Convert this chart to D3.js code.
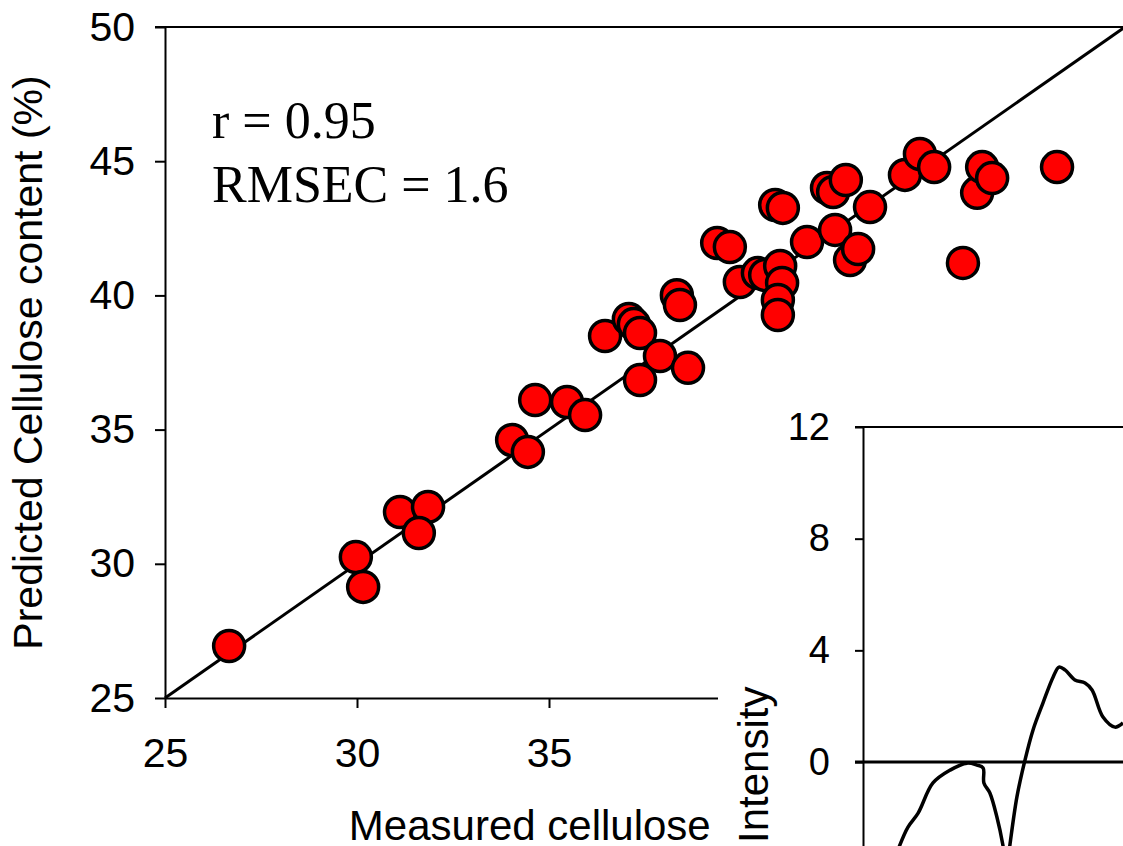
<!DOCTYPE html>
<html>
<head>
<meta charset="utf-8">
<script src="https://cdn.jsdelivr.net/npm/d3@7"></script>
<style>
  body { margin: 0; background: #fff; }
  svg { display: block; }
</style>
</head>
<body>
<div id="chart"></div>
<script>
// Measured vs predicted cellulose content (%)
const measured = [26.67, 29.97, 30.16, 31.12, 31.85, 31.61, 34.04, 34.45, 34.64, 35.47,
  35.94, 36.46, 37.08, 37.21, 37.37, 37.37, 37.89, 38.62, 38.33, 38.41,
  39.38, 39.71, 39.97, 40.44, 40.63, 41.02, 41.07, 40.96, 40.96, 40.89,
  41.09, 41.72, 42.24, 42.40, 42.73, 42.45, 42.84, 43.05, 43.36, 44.27,
  44.66, 45.03, 45.78, 46.15, 46.28, 46.54, 48.23];
const predicted = [26.94, 30.25, 29.14, 31.93, 32.12, 31.15, 34.61, 34.17, 36.10, 36.03,
  35.54, 38.49, 39.12, 38.93, 38.60, 36.85, 37.74, 37.30, 40.01, 39.64,
  41.95, 41.80, 40.50, 40.83, 40.76, 41.10, 40.46, 39.83, 39.27, 43.37,
  43.26, 41.99, 44.00, 43.85, 44.30, 42.44, 41.32, 41.73, 43.29, 44.49,
  45.27, 44.78, 41.21, 43.82, 44.78, 44.37, 44.78];
const xTicks = [25, 30, 35, 40, 45];
const yTicks = [25, 30, 35, 40, 45, 50];
const fitLine = [25, 50];
const statsText = ["r = 0.95", "RMSEC = 1.6"];

// inset spectrum (position in arbitrary units, intensity)
const specPos = [12.3, 14.2, 17.3, 21.2, 26.9, 33.5, 40.0, 43.8, 46.2, 46.5, 48.8, 51.5,
  53.8, 55.2, 56.5, 59.2, 62.3, 65.4, 69.2, 73.1, 75.4, 77.7, 81.5, 85.4, 88.1, 92.3, 96.9, 100];
const specInt = [-3.5, -2.97, -2.33, -1.83, -0.75, -0.29, -0.04, -0.11, -0.21, -0.75, -1.11, -1.97,
  -2.97, -3.9, -2.97, -1.25, 0.07, 1.15, 2.11, 3.04, 3.40, 3.30, 2.94, 2.83, 2.58, 1.61, 1.25, 1.40];
const insetTicks = [0, 4, 8, 12];

const width = 1123;
const height = 846;
const sans = "'Liberation Sans', Arial, sans-serif";
const serif = "'Liberation Serif', 'Times New Roman', serif";

const svg = d3.select("#chart")
    .append("svg")
    .attr("width", width)
    .attr("height", height);

const xScale = d3.scaleLinear().domain([25, 50]).range([165, 1125]);
const yScale = d3.scaleLinear().domain([25, 50]).range([698, 27]);

// top frame line
svg.append("line")
    .attr("x1", 155).attr("x2", width)
    .attr("y1", yScale(50)).attr("y2", yScale(50))
    .attr("stroke", "#000").attr("stroke-width", 2);

const xAxis = svg.append("g")
    .attr("transform", `translate(0,${yScale(25)})`)
    .call(d3.axisBottom(xScale).tickValues(xTicks).tickSize(10).tickPadding(30).tickSizeOuter(0));

const yAxis = svg.append("g")
    .attr("transform", `translate(${xScale(25)},0)`)
    .call(d3.axisLeft(yScale).tickValues(yTicks).tickSize(10).tickPadding(20).tickSizeOuter(0));

[xAxis, yAxis].forEach(g => {
    g.select(".domain").attr("stroke-width", 2);
    g.selectAll(".tick line").attr("stroke-width", 2);
    g.selectAll("text").attr("font-family", sans).attr("font-size", 41).attr("fill", "#000");
});

// 1:1 line
const line = d3.line()
    .x(d => xScale(d))
    .y(d => yScale(d));

svg.append("path")
    .datum(fitLine)
    .attr("fill", "none")
    .attr("stroke", "#000")
    .attr("stroke-width", 3)
    .attr("d", line);

// points
svg.append("g")
    .selectAll("circle")
    .data(measured)
    .join("circle")
    .attr("cx", d => xScale(d))
    .attr("cy", (d, i) => yScale(predicted[i]))
    .attr("r", 15.5)
    .attr("fill", "#ff0000")
    .attr("stroke", "#000")
    .attr("stroke-width", 3.5);

// stats text
svg.append("g")
    .selectAll("text")
    .data(statsText)
    .join("text")
    .attr("x", 212)
    .attr("y", (d, i) => 138 + i * 64)
    .attr("font-family", serif)
    .attr("font-size", 52)
    .text(d => d);

// axis titles
svg.append("text")
    .attr("transform", `translate(42,${(yScale(25) + yScale(50)) / 2}) rotate(-90)`)
    .attr("text-anchor", "middle")
    .attr("font-family", sans)
    .attr("font-size", 41)
    .text("Predicted Cellulose content (%)");

svg.append("text")
    .attr("x", 643)
    .attr("y", 840)
    .attr("text-anchor", "middle")
    .attr("font-family", sans)
    .attr("font-size", 42)
    .text("Measured cellulose content (%)");

// inset
svg.append("rect")
    .attr("x", 718).attr("y", 395)
    .attr("width", width - 718).attr("height", height - 395)
    .attr("fill", "#fff");

const ixScale = d3.scaleLinear().domain([0, 100]).range([863, 1123]);
const iyScale = d3.scaleLinear().domain([-4, 12]).range([873.7, 427]);

svg.append("line")
    .attr("x1", 855).attr("x2", width)
    .attr("y1", iyScale(12)).attr("y2", iyScale(12))
    .attr("stroke", "#000").attr("stroke-width", 2);

const iyAxis = svg.append("g")
    .attr("transform", `translate(${ixScale(0)},0)`)
    .call(d3.axisLeft(iyScale).tickValues(insetTicks).tickSize(8).tickPadding(25).tickSizeOuter(0));
iyAxis.select(".domain").attr("stroke-width", 2);
iyAxis.selectAll(".tick line").attr("stroke-width", 2);
iyAxis.selectAll("text").attr("font-family", sans).attr("font-size", 38).attr("fill", "#000");

// zero line
svg.append("line")
    .attr("x1", 855).attr("x2", width)
    .attr("y1", iyScale(0)).attr("y2", iyScale(0))
    .attr("stroke", "#000").attr("stroke-width", 3);

const specLine = d3.line()
    .x((d, i) => ixScale(specPos[i]))
    .y(d => iyScale(d))
    .curve(d3.curveCatmullRom);

svg.append("path")
    .datum(specInt)
    .attr("fill", "none")
    .attr("stroke", "#000")
    .attr("stroke-width", 3.5)
    .attr("d", specLine);

svg.append("text")
    .attr("transform", "translate(768,843) rotate(-90)")
    .attr("text-anchor", "start")
    .attr("font-family", sans)
    .attr("font-size", 42)
    .text("Intensity");
</script>
</body>
</html>
